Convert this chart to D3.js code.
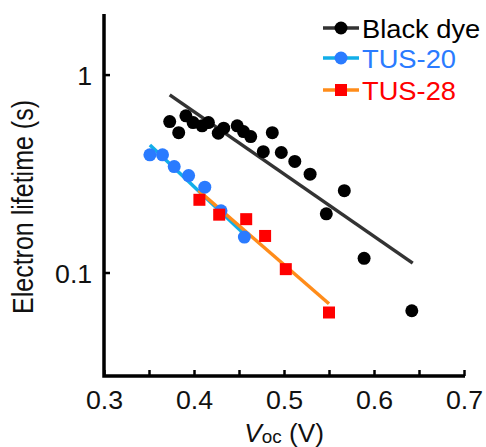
<!DOCTYPE html>
<html>
<head>
<meta charset="utf-8">
<script src="https://cdn.jsdelivr.net/npm/d3@7"></script>
<style>
  body { margin: 0; background: #fff; }
  text { font-family: "Liberation Sans", Arial, sans-serif; }
</style>
</head>
<body>
<div id="chart"></div>
<script>
// values: [Voc (V), lifetime (s)]
var blackDye = [[0.373, 0.579], [0.383, 0.509], [0.391, 0.619], [0.399, 0.572], [0.409, 0.551],
  [0.416, 0.572], [0.427, 0.506], [0.433, 0.536], [0.448, 0.551], [0.455, 0.515], [0.463, 0.486],
  [0.487, 0.509], [0.477, 0.408], [0.497, 0.404], [0.512, 0.364], [0.529, 0.314], [0.547, 0.198],
  [0.567, 0.259], [0.589, 0.118], [0.642, 0.0641]];
var tus20 = [[0.351, 0.393], [0.365, 0.393], [0.378, 0.343], [0.394, 0.309], [0.412, 0.270],
  [0.430, 0.205], [0.456, 0.151]];
var tus28 = [[0.406, 0.233], [0.428, 0.196], [0.458, 0.186], [0.479, 0.153], [0.502, 0.104],
  [0.550, 0.0628]];
// fitted lines, end points
var blackFit = [[0.373, 0.79], [0.643, 0.1116]];
var tus20Fit = [[0.351, 0.441], [0.456, 0.156]];
var tus28Fit = [[0.405, 0.2595], [0.550, 0.0695]];

var xTicks = [0.3, 0.4, 0.5, 0.6, 0.7];
var xMinor = [0.35, 0.45, 0.55, 0.65];
var yTicks = [1, 0.1];
var legendNames = ["Black dye", "TUS-20", "TUS-28"];

var svgWidth = 486;
var svgHeight = 447;

var svg = d3.select("#chart")
  .append("svg")
  .attr("width", svgWidth)
  .attr("height", svgHeight);

var x = d3.scaleLinear().domain([0.3, 0.7]).range([104, 464]);
var y = d3.scaleLog().domain([0.03, 2]).range([376, 15]);

var series = [
  {name: legendNames[0], pts: blackDye, fit: blackFit, line: "#333333", mark: "#000000", text: "#000000", shape: "circle"},
  {name: legendNames[1], pts: tus20, fit: tus20Fit, line: "#12aee8", mark: "#2a7bff", text: "#2a7bff", shape: "circle"},
  {name: legendNames[2], pts: tus28, fit: tus28Fit, line: "#ff8c1a", mark: "#ff0000", text: "#ff0000", shape: "square"}
];

// axes
var bottomAxis = d3.axisBottom(x)
  .tickValues(xTicks.concat(xMinor))
  .tickFormat(d => xTicks.indexOf(d) >= 0 ? d3.format(".1f")(d) : "")
  .tickSizeInner(-6)
  .tickSizeOuter(0)
  .tickPadding(15);

var leftAxis = d3.axisLeft(y)
  .tickValues(yTicks)
  .tickFormat(d => String(d))
  .tickSizeInner(-6)
  .tickSizeOuter(0)
  .tickPadding(11);

var gx = svg.append("g")
  .attr("transform", "translate(0, 376)")
  .call(bottomAxis);
var gy = svg.append("g")
  .attr("transform", "translate(104, 0)")
  .call(leftAxis);

[gx, gy].forEach(function(g) {
  g.select(".domain").remove();
  g.selectAll(".tick line").attr("stroke", "#000").attr("stroke-width", 2.5);
  g.selectAll(".tick text")
    .attr("fill", "#111")
    .attr("font-size", "25px")
    .attr("font-family", "'Liberation Sans', Arial, sans-serif")
    .attr("transform", "scale(1.07,1)");
});
gy.selectAll(".tick text").attr("dy", "0.4em");

// spines
svg.append("path")
  .attr("d", `M104,14 L104,376 L465,376`)
  .attr("fill", "none")
  .attr("stroke", "#000")
  .attr("stroke-width", 3.5);

// fit lines
var line = d3.line().x(d => x(d[0])).y(d => y(d[1]));
series.forEach(function(s) {
  svg.append("path")
    .datum(s.fit)
    .attr("d", line)
    .attr("fill", "none")
    .attr("stroke", s.line)
    .attr("stroke-width", 3.5);
});

// markers
function drawMarker(g, s, cx, cy) {
  if (s.shape === "circle") {
    g.append("circle").attr("cx", cx).attr("cy", cy).attr("r", 6.5).attr("fill", s.mark);
  } else {
    g.append("rect").attr("x", cx - 6).attr("y", cy - 6).attr("width", 12).attr("height", 12).attr("fill", s.mark);
  }
}
series.forEach(function(s) {
  var g = svg.append("g");
  s.pts.forEach(function(d) { drawMarker(g, s, x(d[0]), y(d[1])); });
});

// legend
var legendY = [28, 58, 90];
series.forEach(function(s, i) {
  var g = svg.append("g");
  g.append("line")
    .attr("x1", 323).attr("x2", 359)
    .attr("y1", legendY[i]).attr("y2", legendY[i])
    .attr("stroke", s.line)
    .attr("stroke-width", 3.5);
  drawMarker(g, s, 341, legendY[i]);
  g.append("text")
    .attr("transform", `translate(362, ${legendY[i] + 10}) scale(1.05,1)`)
    .attr("font-size", "26px")
    .attr("fill", s.text)
    .text(s.name);
});

// axis titles
svg.append("text")
  .attr("transform", "translate(33, 207) scale(1.15,1) rotate(-90)")
  .attr("text-anchor", "middle")
  .attr("font-size", "25px")
  .attr("fill", "#111")
  .text("Electron lifetime (s)");

var xt = svg.append("text")
  .attr("transform", "translate(284, 442) scale(1.05,1)")
  .attr("text-anchor", "middle")
  .attr("font-size", "25px")
  .attr("fill", "#111");
xt.append("tspan").attr("font-style", "italic").text("V");
xt.append("tspan").attr("font-size", "18px").attr("dy", "1").text("oc");
xt.append("tspan").attr("dy", "-1").text(" (V)");
</script>
</body>
</html>
